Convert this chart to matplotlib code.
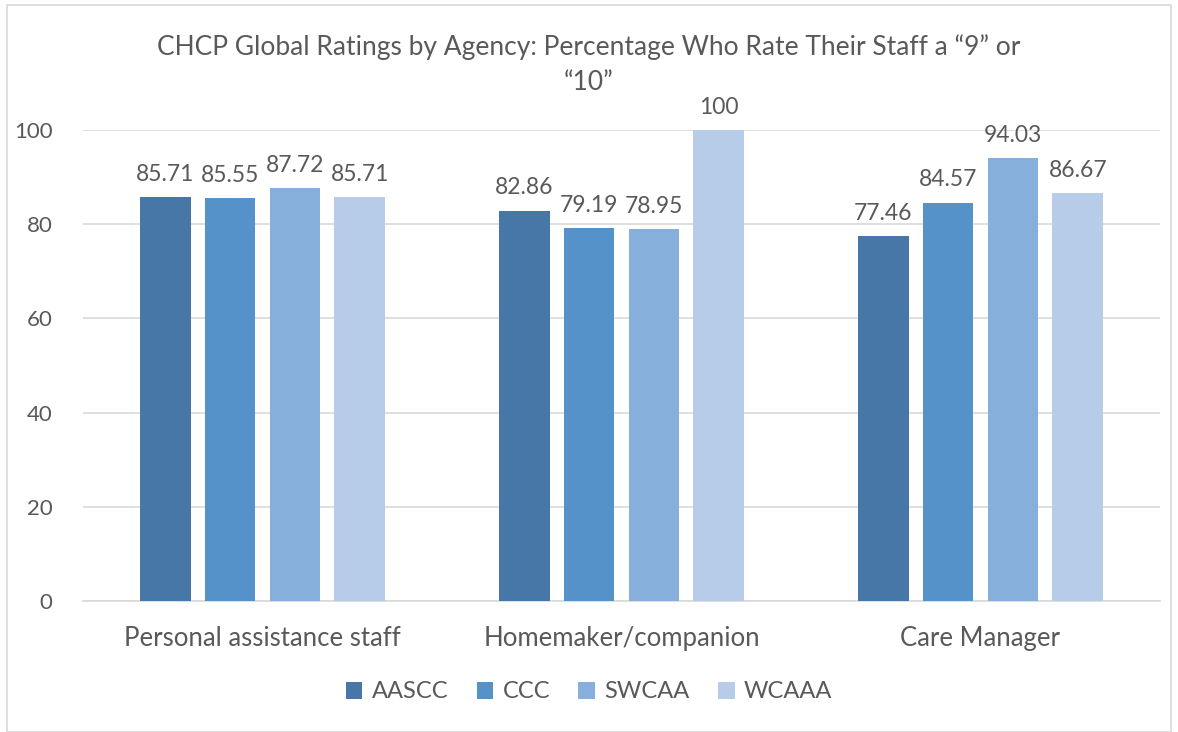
import matplotlib.pyplot as plt
import numpy as np
from matplotlib.patches import Rectangle

categories = ["Personal assistance staff", "Homemaker/companion", "Care Manager"]
series_names = ["AASCC", "CCC", "SWCAA", "WCAAA"]
aascc = [85.71, 82.86, 77.46]
ccc = [85.55, 79.19, 84.57]
swcaa = [87.72, 78.95, 94.03]
wcaaa = [85.71, 100, 86.67]
labels_text = [["85.71", "82.86", "77.46"], ["85.55", "79.19", "84.57"],
               ["87.72", "78.95", "94.03"], ["85.71", "100", "86.67"]]
yticks = [0, 20, 40, 60, 80, 100]
colors = ["#4677A6", "#5592C9", "#86AFDC", "#B7CCE8"]

plt.rcParams['font.family'] = ['Lato', 'DejaVu Sans']
txt = "#595959"

fig = plt.figure(figsize=(11.78, 7.32), dpi=100)
fig.patches.append(Rectangle((7/1178, 0), 1 - 14/1178, 1 - 5/732, transform=fig.transFigure,
                             fill=False, edgecolor="#D9D9D9", linewidth=1.2))
ax = fig.add_axes([83/1178, 1 - 601/732, (1160-83)/1178, (601-130)/732])

data = [aascc, ccc, swcaa, wcaaa]
x = np.arange(len(categories))
step = 0.181
bw = 0.142
for i, (vals, c) in enumerate(zip(data, colors)):
    pos = x + (i - 1.5) * step
    ax.bar(pos, vals, width=bw, color=c, label=series_names[i], zorder=3)
    for p, v, t in zip(pos, vals, labels_text[i]):
        ax.text(p, v + 2.6, t, ha="center", va="bottom", fontsize=16.5, color=txt)

ax.set_xlim(-0.5, 2.5)
ax.set_ylim(0, 100)
ax.set_yticks(yticks)
ax.set_yticklabels([str(t) for t in yticks], fontsize=16, color=txt)
ax.set_xticks(x)
ax.set_xticklabels(categories, fontsize=18.5, color=txt)
ax.tick_params(axis="both", length=0)
ax.tick_params(axis="y", pad=22)
ax.tick_params(axis="x", pad=18)
ax.grid(axis="y", color="#D9D9D9", linewidth=1.2, zorder=0)
for s in ["top", "right", "left"]:
    ax.spines[s].set_visible(False)
ax.spines["bottom"].set_color("#D9D9D9")
ax.spines["bottom"].set_linewidth(1.2)

fig.text(0.5, 1 - 47/732, "CHCP Global Ratings by Agency: Percentage Who Rate Their Staff a \u201c9\u201d or",
         ha="center", va="center", fontsize=19, color=txt)
fig.text(0.5, 1 - 82/732, "\u201c10\u201d",
         ha="center", va="center", fontsize=19, color=txt)

leg = fig.legend(loc="center", bbox_to_anchor=(0.5, 1 - 692/732), ncol=4, frameon=False,
                 fontsize=17, handlelength=0.7, handleheight=0.7, columnspacing=1.2, handletextpad=0.4)
for t in leg.get_texts():
    t.set_color(txt)

fig.savefig("out.png", dpi=100)
